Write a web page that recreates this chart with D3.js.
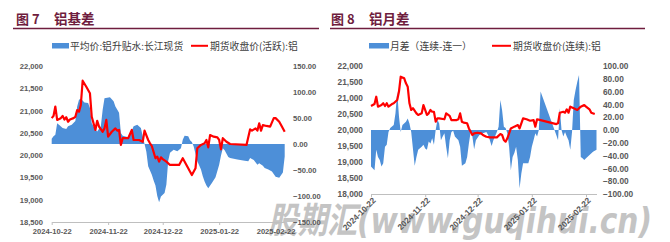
<!DOCTYPE html>
<html><head><meta charset="utf-8">
<script src="https://cdn.jsdelivr.net/npm/d3@7"></script>
<style>body{margin:0;background:#fff}svg{display:block}</style>
</head><body>
<svg id="c" width="670" height="242"></svg>
<script>
// ---------- Chart 1: 铝基差 ----------
const basisRedDates = ["2024-10-22","2024-10-23","2024-10-24","2024-10-25","2024-10-27","2024-10-28","2024-10-29","2024-10-30","2024-10-31","2024-11-01","2024-11-03","2024-11-04","2024-11-05","2024-11-06","2024-11-07","2024-11-08","2024-11-10","2024-11-12","2024-11-13","2024-11-15","2024-11-16","2024-11-17","2024-11-19","2024-11-20","2024-11-21","2024-11-22","2024-11-24","2024-11-26","2024-11-27","2024-11-28","2024-11-29","2024-11-30","2024-12-03","2024-12-05","2024-12-06","2024-12-09","2024-12-11","2024-12-12","2024-12-14","2024-12-15","2024-12-16","2024-12-18","2024-12-19","2024-12-20","2024-12-21","2024-12-22","2024-12-24","2024-12-26","2024-12-31","2025-01-02","2025-01-05","2025-01-07","2025-01-09","2025-01-10","2025-01-12","2025-01-14","2025-01-15","2025-01-16","2025-01-17","2025-01-19","2025-01-21","2025-01-22","2025-01-23","2025-01-24","2025-01-26","2025-01-28","2025-02-06","2025-02-08","2025-02-09","2025-02-11","2025-02-12","2025-02-13","2025-02-14","2025-02-15","2025-02-17","2025-02-19","2025-02-21","2025-02-22","2025-02-24","2025-02-25","2025-02-27"];
const basisRedValues = [20830,20880,21090,20790,20830,20880,20800,20850,20750,20800,20830,20860,21010,20975,21125,21670,21535,21390,20860,20565,20770,20640,20525,20600,20790,20415,20525,20600,20550,20565,20230,20380,20380,20565,20340,20340,20300,20550,20340,20265,20205,19930,19965,19855,19950,19910,19855,19780,19780,19930,19705,19555,19705,20155,20230,20265,20340,20175,20450,20415,20400,20340,20130,20380,20300,20250,20230,20580,20550,20600,20550,20715,20550,20675,20655,20640,20830,20830,20750,20675,20525];
const basisBlueDates = ["2024-10-22","2024-10-23","2024-10-24","2024-10-25","2024-10-26","2024-10-28","2024-10-30","2024-10-31","2024-11-02","2024-11-04","2024-11-05","2024-11-06","2024-11-07","2024-11-09","2024-11-11","2024-11-12","2024-11-13","2024-11-15","2024-11-16","2024-11-18","2024-11-19","2024-11-20","2024-11-23","2024-11-25","2024-11-26","2024-11-28","2024-11-29","2024-11-30","2024-12-03","2024-12-04","2024-12-06","2024-12-08","2024-12-10","2024-12-11","2024-12-12","2024-12-13","2024-12-14","2024-12-16","2024-12-17","2024-12-18","2024-12-19","2024-12-20","2024-12-21","2024-12-23","2024-12-24","2024-12-25","2024-12-26","2024-12-28","2024-12-30","2024-12-31","2025-01-01","2025-01-02","2025-01-03","2025-01-05","2025-01-06","2025-01-07","2025-01-08","2025-01-10","2025-01-12","2025-01-13","2025-01-14","2025-01-15","2025-01-16","2025-01-18","2025-01-20","2025-01-22","2025-01-23","2025-01-24","2025-01-25","2025-01-27","2025-01-28","2025-02-01","2025-02-05","2025-02-07","2025-02-08","2025-02-10","2025-02-12","2025-02-13","2025-02-15","2025-02-16","2025-02-18","2025-02-20","2025-02-22","2025-02-24","2025-02-26","2025-02-27"];
const basisBlueValues = [10,15,18,40,37,31,29,34,37,44,72,85,87,80,79,69,40,28,24,34,66,88,90,82,72,60,21,16,13,18,34,37,31,15,0,-15,-43,-59,-70,-80,-100,-112,-101,-94,-78,-32,-17,-11,-14,-11,-8,8,16,15,7,4,-5,-33,-49,-62,-72,-80,-85,-75,-64,-40,-22,-8,-12,-25,-27,-30,-32,-33,-27,-31,-40,-37,-42,-46,-49,-53,-63,-65,-55,-24];
const basisLeftTicks = [18500,19000,19500,20000,20500,21000,21500,22000];
const basisRightTicks = [-150,-100,-50,0,50,100,150];

// ---------- Chart 2: 铝月差 ----------
const spreadRedDates = ["2024-10-22","2024-10-24","2024-10-25","2024-10-26","2024-10-28","2024-10-29","2024-10-30","2024-10-31","2024-11-01","2024-11-03","2024-11-04","2024-11-06","2024-11-07","2024-11-08","2024-11-10","2024-11-11","2024-11-12","2024-11-13","2024-11-14","2024-11-15","2024-11-17","2024-11-18","2024-11-20","2024-11-21","2024-11-23","2024-11-24","2024-11-25","2024-11-26","2024-11-27","2024-11-28","2024-11-29","2024-11-30","2024-12-03","2024-12-04","2024-12-06","2024-12-07","2024-12-10","2024-12-11","2024-12-12","2024-12-13","2024-12-14","2024-12-16","2024-12-17","2024-12-19","2024-12-20","2024-12-22","2024-12-24","2024-12-25","2024-12-27","2024-12-29","2025-01-02","2025-01-04","2025-01-05","2025-01-06","2025-01-07","2025-01-08","2025-01-10","2025-01-12","2025-01-14","2025-01-15","2025-01-17","2025-01-19","2025-01-21","2025-01-23","2025-01-24","2025-01-25","2025-01-27","2025-02-05","2025-02-06","2025-02-07","2025-02-09","2025-02-10","2025-02-11","2025-02-12","2025-02-13","2025-02-15","2025-02-17","2025-02-19","2025-02-21","2025-02-22","2025-02-24","2025-02-25","2025-02-27"];
const spreadRedValues = [20750,20810,21040,20730,20780,20835,20750,20835,20730,20810,20835,20940,21200,21665,21615,21460,21355,20835,20625,20680,20520,20470,20520,20780,20470,20520,20625,20570,20570,20260,20365,20365,20335,20520,20440,20310,20310,20335,20520,20260,20230,20210,20050,19845,19895,19915,19895,19845,19790,19770,19770,19875,19845,19690,19635,19740,20050,20105,20155,20050,20365,20335,20290,20310,20105,20335,20310,20185,20210,20540,20570,20540,20645,20540,20730,20680,20625,20730,20780,20730,20645,20540,20500];
const spreadBlueDates = ["2024-10-22","2024-10-24","2024-10-25","2024-10-26","2024-10-27","2024-10-28","2024-10-29","2024-10-30","2024-10-31","2024-11-01","2024-11-02","2024-11-04","2024-11-05","2024-11-06","2024-11-07","2024-11-08","2024-11-09","2024-11-11","2024-11-12","2024-11-13","2024-11-14","2024-11-16","2024-11-17","2024-11-18","2024-11-20","2024-11-21","2024-11-22","2024-11-23","2024-11-24","2024-11-25","2024-11-26","2024-11-27","2024-11-28","2024-11-29","2024-11-30","2024-12-01","2024-12-02","2024-12-03","2024-12-04","2024-12-05","2024-12-06","2024-12-07","2024-12-08","2024-12-09","2024-12-11","2024-12-12","2024-12-13","2024-12-15","2024-12-16","2024-12-17","2024-12-18","2024-12-19","2024-12-20","2024-12-21","2024-12-23","2024-12-25","2024-12-27","2024-12-28","2024-12-29","2024-12-30","2024-12-31","2025-01-02","2025-01-03","2025-01-04","2025-01-05","2025-01-06","2025-01-07","2025-01-08","2025-01-09","2025-01-10","2025-01-11","2025-01-12","2025-01-13","2025-01-14","2025-01-15","2025-01-16","2025-01-17","2025-01-20","2025-01-21","2025-01-22","2025-01-23","2025-01-24","2025-01-25","2025-01-26","2025-01-27","2025-02-05","2025-02-06","2025-02-07","2025-02-08","2025-02-09","2025-02-10","2025-02-11","2025-02-12","2025-02-13","2025-02-14","2025-02-15","2025-02-16","2025-02-17","2025-02-18","2025-02-19","2025-02-20","2025-02-21","2025-02-22","2025-02-24","2025-02-26","2025-02-28"];
const spreadBlueValues = [-57,-63,-31,-42,-47,-57,-52,-26,-23,-3,3,8,26,60,21,-3,8,13,18,10,-3,-56,-42,-31,-26,-23,-29,-31,-18,-21,-13,-23,0,16,10,-16,-10,-5,-26,-44,-16,-3,-1,-10,-16,-26,-56,-52,-42,-21,-3,-10,-30,-16,-8,-5,-3,-8,-16,-25,-16,-3,5,47,31,5,3,-5,-26,-63,-42,-36,-26,-47,-91,-68,-52,-52,-42,-26,-16,-5,-10,0,60,-8,-16,34,0,-10,-3,-10,-16,-31,-3,47,62,75,86,-42,-44,-47,-44,-39,-34,-31];
const spreadLeftTicks = [18000,18500,19000,19500,20000,20500,21000,21500,22000];
const spreadRightTicks = [-100,-80,-60,-40,-20,0,20,40,60,80,100];

const xTickDates = ["2024-10-22","2024-11-22","2024-12-22","2025-01-22","2025-02-22"];

const parse = d3.timeParse("%Y-%m-%d");
const fmtDate = d3.timeFormat("%Y-%m-%d");
const svg = d3.select("#c");
svg.append("rect").attr("width",670).attr("height",242).attr("fill","#fff");

// watermark (drawn first, underneath)
svg.append("text").attr("x",268).attr("y",233)
  .attr("font-family","'DejaVu Sans', 'Noto Sans CJK SC', sans-serif")
  .attr("font-weight","bold").attr("font-style","italic")
  .attr("font-size",36).attr("fill","#c4c4c4")
  .attr("textLength",384).attr("lengthAdjust","spacingAndGlyphs")
  .text("股期汇(www.guqihui.cn)");

const BLUE = "#4d8fd8", RED = "#ff0000", MAROON = "#6f1d3e";
const numFont = "'Liberation Sans', Arial, sans-serif";
const cjk = "'Noto Sans CJK SC', sans-serif";

function header(g, x0, lineX1, lineX2, num, title){
  g.append("text").attr("x",x0).attr("y",24).attr("font-family",cjk).attr("font-weight","bold")
    .attr("font-size",13).attr("fill",MAROON).text("图 " + num);
  g.append("text").attr("x",x0+38).attr("y",24).attr("font-family",cjk).attr("font-weight","bold")
    .attr("font-size",13.5).attr("fill",MAROON).text(title);
  g.append("line").attr("x1",lineX1).attr("x2",lineX2).attr("y1",28.5).attr("y2",28.5)
    .attr("stroke",MAROON).attr("stroke-width",1.3);
}

function legend(g, bx, bw, t1, rx, rw, t2){
  g.append("rect").attr("x",bx).attr("y",43).attr("width",bw).attr("height",5.5).attr("fill",BLUE);
  g.append("text").attr("x",bx+bw+1).attr("y",49.5).attr("font-family",cjk).attr("font-size",9.8)
    .attr("fill","#404040").text(t1);
  g.append("line").attr("x1",rx).attr("x2",rx+rw).attr("y1",45.8).attr("y2",45.8)
    .attr("stroke",RED).attr("stroke-width",2);
  g.append("text").attr("x",rx+rw+2).attr("y",49.5).attr("font-family",cjk).attr("font-size",9.8)
    .attr("fill","#404040").text(t2);
}

function drawChart(o){
  const g = svg.append("g");
  const x = d3.scaleTime().domain([parse(o.start), parse(o.end)]).range([o.x0, o.x1]);
  const yL = d3.scaleLinear().domain(o.leftDomain).range([o.yBottom, o.yTop]);
  const yR = d3.scaleLinear().domain(o.rightDomain).range([o.yBottom, o.yTop]);

  const blue = o.blueDates.map((d,i)=>({d:parse(d), v:o.blueValues[i]}));
  const red = o.redDates.map((d,i)=>({d:parse(d), v:o.redValues[i]}));

  g.append("path").datum(blue).attr("fill",BLUE)
    .attr("d", d3.area().x(p=>x(p.d)).y0(yR(0)).y1(p=>yR(p.v)));

  // left axis
  const la = g.append("g").attr("transform",`translate(${o.leftLabelX},0)`)
    .call(d3.axisLeft(yL).tickValues(o.leftTicks).tickSize(0).tickPadding(0).tickFormat(d3.format(",")));
  la.select(".domain").remove();
  la.selectAll("text").attr("font-family",numFont).attr("font-weight","bold").attr("font-size",o.fs).attr("fill","#595959");

  // right axis
  const ra = g.append("g").attr("transform",`translate(${o.rightLabelX},0)`)
    .call(d3.axisRight(yR).tickValues(o.rightTicks).tickSize(0).tickPadding(0).tickFormat(d3.format(".2f")));
  ra.select(".domain").remove();
  ra.selectAll("text").attr("font-family",numFont).attr("font-weight","bold").attr("font-size",o.fs).attr("fill","#595959");

  // bottom axis
  const ba = g.append("g").attr("transform",`translate(0,${o.yBottom})`)
    .call(d3.axisBottom(x).tickValues(xTickDates.map(parse)).tickSize(3).tickSizeOuter(0).tickPadding(4).tickFormat(fmtDate));
  ba.select(".domain").attr("stroke","#bfbfbf");
  ba.selectAll(".tick line").attr("stroke","#bfbfbf");
  ba.selectAll("text").attr("font-family",numFont).attr("font-weight","bold").attr("font-size",o.fs).attr("fill","#595959");
  if (o.rotate){
    ba.selectAll("text").attr("text-anchor","end").attr("dy","0.32em")
      .attr("transform","translate(3,5) rotate(-45)").attr("y",0).attr("x",0);
  }

  g.append("path").datum(red).attr("fill","none").attr("stroke",RED).attr("stroke-width",2.2)
    .attr("stroke-linejoin","round")
    .attr("d", d3.line().x(p=>x(p.d)).y(p=>yL(p.v)));
}

const g1 = svg.append("g");
header(g1, 16, 13, 319, "7", "铝基差");
legend(g1, 52, 17, "平均价:铝升贴水:长江现货", 191, 17, "期货收盘价(活跃):铝");
drawChart({start:"2024-10-22", end:"2025-02-27", x0:51.7, x1:284.7, yTop:66, yBottom:222,
  leftDomain:[18500,22000], rightDomain:[-150,150], leftTicks:basisLeftTicks, rightTicks:basisRightTicks,
  leftLabelX:43, rightLabelX:293, fs:7.6, rotate:false,
  blueDates:basisBlueDates, blueValues:basisBlueValues, redDates:basisRedDates, redValues:basisRedValues});

const g2 = svg.append("g");
header(g2, 331, 330, 645, "8", "铝月差");
legend(g2, 369, 20, "月差（连续-连一）", 492, 19, "期货收盘价(连续):铝");
drawChart({start:"2024-10-22", end:"2025-02-28", x0:371, x1:596.5, yTop:66, yBottom:194,
  leftDomain:[18000,22000], rightDomain:[-100,100], leftTicks:spreadLeftTicks, rightTicks:spreadRightTicks,
  leftLabelX:363, rightLabelX:603, fs:8.3, rotate:true,
  blueDates:spreadBlueDates, blueValues:spreadBlueValues, redDates:spreadRedDates, redValues:spreadRedValues});
</script>
</body></html>
